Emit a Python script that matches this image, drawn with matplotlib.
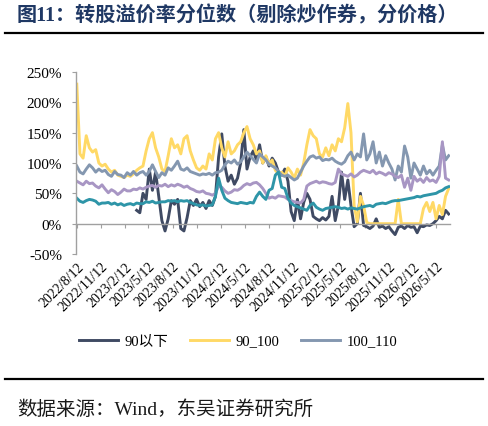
import numpy as np
import pandas as pd
import matplotlib
matplotlib.use("Agg")
import matplotlib.pyplot as plt
from matplotlib.lines import Line2D

# ---------------- data ----------------
start_date = "2022-08-12"
n_points = 119
step = "12D"

tick_labels = ["2022/8/12", "2022/11/12", "2023/2/12", "2023/5/12", "2023/8/12",
               "2023/11/12", "2024/2/12", "2024/5/12", "2024/8/12", "2024/11/12",
               "2025/2/12", "2025/5/12", "2025/8/12", "2025/11/12", "2026/2/12",
               "2026/5/12"]

series_names = ["90以下", "90_100", "100_110", "110_120", "120以上"]

s_below90 = [np.nan] * 19 + [
    22, 18, 50, 40, 90, 55, 85, 45, 5, -12,
    8, 38, 32, 40, -8, -12, 10, 38, 30, 40,
    28, 35, 25, 38, 30, 45, 110, 148, 95, 70,
    80, 65, 75, 100, 155, 90, 110, 120, 105, 130,
    100, 110, 95, 108, 100, 85, 80, 90, 70, 20,
    5, 40, 8, 35, 50, 40, 12, 8, 5, 10,
    6, 12, 45, 5, 30, 85, 40, 72, 30, -5,
    0, 50, -3, -5, -8, -4, 8, -6, -4, -8,
    -5, -12, -18, -6, -4, -8, -3, -6, -5, -15,
    -4, -5, -2, -3, 0, 5, 12, 8, 22, 16]

s_90_100 = [
    230, 115, 108, 145, 125, 118, 122, 100, 95, 98,
    90, 85, 88, 80, 78, 76, 80, 78, 82, 88,
    92, 95, 120, 140, 150, 125, 110, 90, 86, 112,
    140, 125, 130, 115, 140, 145, 120, 105, 92, 88,
    95, 90, 115, 105, 140, 150, 125, 110, 135, 115,
    120, 130, 135, 150, 160, 140, 130, 115, 120, 100,
    112, 98, 105, 88, 82, 85, 78, 92, 85, 75,
    90, 80, 100, 130, 155, 145, 140, 115, 110, 125,
    112, 130, 120, 140, 135, 158, 198, 150, 30, 3,
    45, 30, 2, 0, 0, 0, 0, 0, 0, 0,
    0, 0, 40, 0, 0, 0, 0, 0, 0, 0,
    25, 35, 20, 35, 8, 30, 15, 45, 58]

s_100_110 = [
    95, 85, 82, 90, 97, 92, 85, 90, 86, 88,
    81, 78, 86, 81, 80, 76, 84, 80, 86, 80,
    84, 86, 80, 86, 97, 86, 76, 84, 80, 92,
    88, 95, 103, 90, 88, 92, 86, 84, 82, 80,
    82, 81, 83, 80, 84, 85, 88, 97, 103, 100,
    105, 98, 102, 110, 118, 112, 106, 100, 115, 110,
    105, 98, 95, 92, 86, 80, 78, 80, 76, 72,
    75, 85, 95, 103, 110, 112, 108, 110, 104, 106,
    105, 108, 103, 100, 98, 102, 112, 118, 105, 115,
    110, 148, 105, 115, 135, 100, 118, 95, 112, 100,
    90, 72, 95, 85, 128, 110, 75, 100, 90, 80,
    95, 82, 88, 80, 88, 95, 130, 105, 112]

s_110_120 = [
    70, 67, 64, 70, 66, 67, 62, 59, 64, 57,
    51, 56, 53, 48, 52, 57, 54, 54, 57, 56,
    59, 57, 60, 62, 63, 60, 63, 62, 65, 61,
    64, 62, 65, 63, 60, 62, 58, 56, 53, 52,
    54, 50, 49, 47, 50, 62, 60, 54, 50, 52,
    56, 55, 58, 63, 66, 64, 67, 68, 64, 58,
    50, 42, 44, 42, 46, 45, 44, 40, 38, 36,
    35, 34, 40, 62, 66, 68, 70, 67, 69, 68,
    66, 65, 68, 90, 82, 80, 78, 82, 77, 80,
    85, 88, 86, 84, 88, 82, 85, 83, 80, 84,
    82, 78, 76, 80, 60, 75, 55, 78, 70, 74,
    68, 76, 70, 72, 68, 78, 135, 75, 72]

s_above120 = [
    42, 37, 35, 38, 40, 39, 37, 32, 34, 34,
    35, 32, 34, 31, 33, 30, 32, 33, 31, 34,
    33, 33, 36, 35, 37, 34, 35, 36, 36, 38,
    37, 38, 36, 38, 37, 38, 35, 33, 31, 30,
    31, 29, 30, 31, 45, 75, 55, 42, 38, 35,
    34, 33, 35, 34, 33, 35, 34, 45, 52, 45,
    40, 55, 58, 80, 85, 60, 58, 42, 34, 30,
    28, 26, 24, 22, 30, 34, 27, 24, 22, 25,
    26, 27, 28, 27, 25, 26, 24, 26, 25, 24,
    26, 28, 29, 30, 28, 32, 33, 34, 33, 35,
    37, 38, 38, 39, 40, 41, 42, 43, 45, 44,
    46, 47, 48, 49, 50, 53, 55, 59, 61]

colors = ["#3F4A63", "#FFD966", "#8497B0", "#A896C4", "#2E95A8"]

# ---------------- figure ----------------
W, H = 488, 427
fig = plt.figure(figsize=(W / 100, H / 100), dpi=100)
ax = fig.add_axes([76 / W, 1 - 255 / H, (450 - 76) / W, (255 - 73) / H])

dates = pd.date_range(start_date, periods=n_points, freq=step)
all_series = [s_below90, s_90_100, s_100_110, s_110_120, s_above120]
handles = []
for name, vals, c in zip(series_names, all_series, colors):
    ln, = ax.plot(dates, vals, color=c, lw=2.1, label=name, solid_joinstyle="round")
    handles.append(ln)

x0 = pd.Timestamp(start_date)
ax.set_xlim(x0 - pd.Timedelta(days=3), x0 + pd.Timedelta(days=1421))
ax.set_ylim(-50, 250)
ax.set_yticks(np.arange(-50, 251, 50))
ax.set_yticklabels([f"{v}%" for v in range(-50, 251, 50)],
                   fontfamily="Liberation Serif", fontsize=11)

tick_dates = pd.to_datetime(tick_labels, format="%Y/%m/%d")
ax.set_xticks(tick_dates)
ax.tick_params(axis="x", which="both", direction="out", length=3, color="#A0A0A0",
               labelbottom=False)
ax.tick_params(axis="y", direction="out", length=3, pad=7, color="#A0A0A0",
               labelcolor="#000000")

for sp in ["top", "right"]:
    ax.spines[sp].set_visible(False)
ax.spines["bottom"].set_position(("data", 0))
ax.spines["bottom"].set_color("#A0A0A0")
ax.spines["left"].set_color("#A0A0A0")
ax.spines["bottom"].set_linewidth(1.0)
ax.spines["left"].set_linewidth(1.0)

sec = ax.secondary_xaxis(location=0)
sec.set_xticks(tick_dates)
sec.set_xticklabels(tick_labels, rotation=45, ha="right", va="top",
                    rotation_mode="anchor", fontfamily="Liberation Serif", fontsize=10)
sec.tick_params(length=0, pad=4)
sec.spines["bottom"].set_visible(False)

fig.legend(handles[:3], series_names[:3], loc="center", bbox_to_anchor=(238 / W, 1 - 342 / H),
           ncol=3, frameon=False, handlelength=2.7, handletextpad=0.45, columnspacing=1.45,
           prop={"family": ["Liberation Serif", "Noto Sans CJK SC"], "size": 10.5})

# title and rules
fig.text(17 / W, 1 - 16 / H, "图11：转股溢价率分位数（剔除炒作券，分价格）",
         fontfamily=["Liberation Serif", "Noto Sans CJK SC"], fontweight="bold",
         fontsize=14.5, color="#1F3864", ha="left", va="center")
fig.add_artist(Line2D([5 / W, 483 / W], [1 - 34 / H, 1 - 34 / H], transform=fig.transFigure,
                      color="black", lw=1.6))
fig.add_artist(Line2D([5 / W, 483 / W], [1 - 380 / H, 1 - 380 / H], transform=fig.transFigure,
                      color="black", lw=1.6))
fig.text(17 / W, 1 - 410 / H, "数据来源：Wind，东吴证券研究所",
         fontfamily=["Liberation Serif", "Noto Sans CJK SC"], fontsize=14,
         color="#1A1A1A", ha="left", va="center")

fig.savefig("out.png", dpi=100)
